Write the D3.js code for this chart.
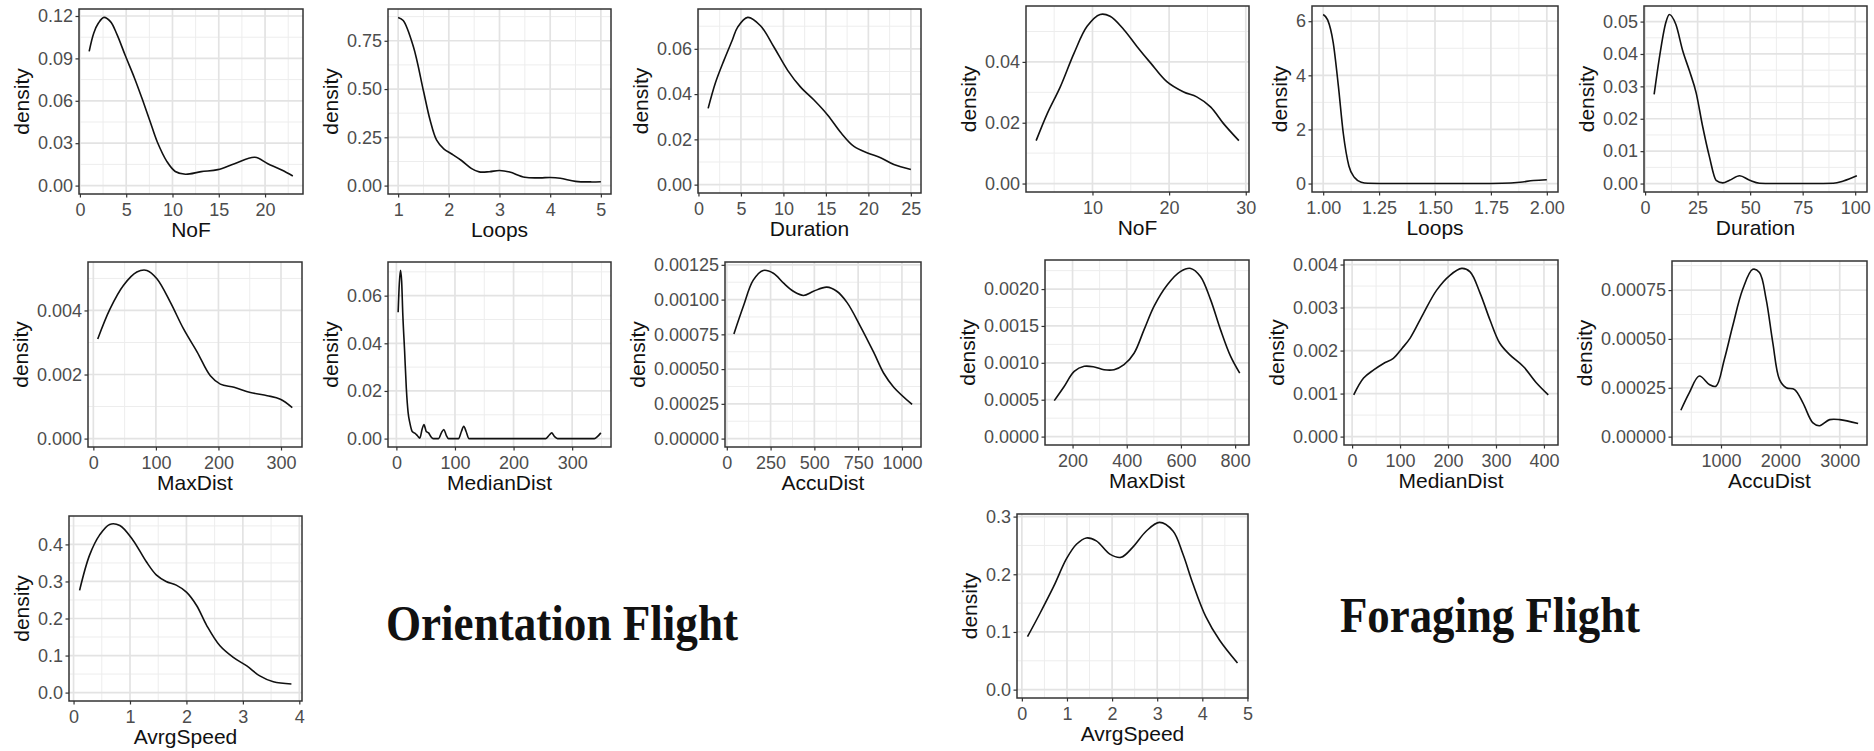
<!DOCTYPE html>
<html><head><meta charset="utf-8">
<script src="https://cdn.jsdelivr.net/npm/d3@7"></script>
<style>body{margin:0;background:#fff} svg{display:block}</style>
</head><body>
<svg id="c" width="1874" height="751"></svg>
<script>
// ---------- data: [value, density] ----------
const oriNoF = [[1,0.095],[1.5,0.108],[2,0.115],[2.6,0.119],[3.3,0.116],[4,0.107],[4.9,0.092],[5.9,0.076],[6.8,0.060],[7.6,0.045],[8.35,0.031],[9.4,0.017],[10.3,0.010],[11.4,0.008],[13.1,0.0099],[14.9,0.0113],[16.7,0.0155],[18.9,0.020],[20.3,0.0155],[21.8,0.011],[23,0.0068]];
const oriLoops = [[1,0.871],[1.1,0.855],[1.3,0.72],[1.5,0.49],[1.63,0.34],[1.76,0.235],[1.9,0.19],[2.05,0.165],[2.25,0.13],[2.45,0.088],[2.6,0.071],[2.8,0.072],[3.0,0.078],[3.2,0.07],[3.5,0.043],[3.8,0.04],[4.0,0.042],[4.2,0.038],[4.5,0.022],[4.8,0.019],[5,0.02]];
const oriDuration = [[1.14,0.0337],[2,0.045],[3,0.0549],[4,0.064],[4.6,0.0695],[5.8,0.0739],[7.3,0.0702],[8.9,0.0607],[10.5,0.0505],[12.0,0.0432],[13.6,0.0374],[15.2,0.0308],[16.8,0.0228],[18.3,0.0169],[19.9,0.014],[21.5,0.0118],[23.0,0.0089],[25.0,0.0067]];
const forNoF = [[2.65,0.0141],[4.1,0.023],[5.8,0.0318],[7.6,0.0429],[9.3,0.0517],[11.0,0.0556],[12.3,0.055],[14.1,0.0506],[15.8,0.0451],[17.6,0.0396],[19.7,0.0335],[21.9,0.0301],[23.6,0.0285],[25.4,0.0252],[27.1,0.0197],[29.1,0.0141]];
const forLoops = [[1,6.25],[1.02,6.05],[1.045,5.2],[1.068,3.6],[1.09,1.85],[1.115,0.65],[1.14,0.22],[1.17,0.05],[1.2,0.01],[1.3,0],[1.5,0],[1.7,0],[1.8,0.01],[1.88,0.05],[1.94,0.11],[2.0,0.14]];
const forDuration = [[4.3,0.0275],[6.7,0.0384],[9.9,0.0498],[11.5,0.0522],[14.7,0.049],[17.9,0.041],[21.1,0.0348],[24.3,0.028],[27.4,0.0176],[30.6,0.0083],[33.8,0.001],[37,0.0002],[40.2,0.001],[45,0.0024],[49.8,0.001],[54.5,0.0001],[60,0],[80,0],[89.6,0.0001],[94.4,0.0008],[100.8,0.0024]];
const oriMaxDist = [[7,0.00311],[26.7,0.00405],[48,0.00478],[69.5,0.0052],[85.6,0.00525],[101.6,0.00499],[123,0.00426],[144,0.00343],[166,0.0027],[187,0.00196],[203,0.0017],[225,0.0016],[251,0.00144],[278,0.00134],[299,0.00123],[318,0.00097]];
const oriMedianDist = [[3,0.053],[5,0.065],[7,0.0706],[9,0.066],[11,0.052],[14,0.037],[17,0.021],[20,0.011],[23,0.0066],[27,0.003],[32,0.0022],[36,0.0012],[40,0.0002],[44,0.004],[47,0.0059],[51,0.003],[55,0.0024],[59,0.0008],[63,0],[72,0],[77,0.0025],[81,0.0038],[85,0.0015],[89,0],[106,0],[111,0.003],[115,0.0052],[119,0.003],[124,0],[255,0],[261,0.0015],[265,0.0024],[270,0.0008],[275,0],[338,0],[343,0.0008],[349,0.0024]];
const oriAccuDist = [[40.6,0.000753],[94,0.00095],[151,0.00114],[208,0.00121],[266,0.00119],[323,0.00112],[380,0.00106],[438,0.00103],[495,0.00106],[571,0.00109],[628,0.00106],[686,0.00098],[762,0.00081],[839,0.00062],[896,0.00047],[953,0.00037],[1058,0.000246]];
const forMaxDist = [[132.5,0.000488],[169,0.00068],[206,0.000885],[243,0.000953],[280,0.000944],[316,0.000907],[353,0.000907],[390,0.000975],[427,0.00113],[464,0.00145],[501,0.00177],[550,0.00206],[599,0.00224],[636,0.00228],[672,0.00217],[709,0.00186],[746,0.00145],[783,0.00109],[817,0.00086]];
const forMedianDist = [[3.4,0.00097],[24,0.00136],[45,0.00155],[65.5,0.0017],[86,0.00182],[104,0.00205],[121,0.00229],[148.6,0.00286],[176,0.0034],[204,0.00375],[228.5,0.00391],[246,0.00383],[267,0.00333],[287.5,0.00271],[308,0.00217],[329,0.0019],[357,0.00163],[385,0.00124],[409,0.00097]];
const forAccuDist = [[324,0.000135],[465,0.000224],[634,0.00031],[803,0.000267],[915,0.000258],[1056,0.000395],[1197,0.000566],[1366,0.000754],[1535,0.000856],[1648,0.00084],[1761,0.000702],[1873,0.00048],[1986,0.000292],[2099,0.00025],[2240,0.000241],[2380,0.000173],[2549,0.00007],[2662,0.000056],[2831,0.000087],[3000,0.000087],[3310,0.000067]];
const oriAvrgSpeed = [[0.107,0.276],[0.284,0.371],[0.46,0.425],[0.64,0.454],[0.82,0.451],[1.05,0.412],[1.29,0.353],[1.47,0.317],[1.64,0.3],[1.82,0.29],[2.0,0.271],[2.18,0.235],[2.36,0.181],[2.59,0.127],[2.83,0.095],[3.07,0.072],[3.3,0.045],[3.54,0.029],[3.86,0.023]];
const forAvrgSpeed = [[0.125,0.0918],[0.40,0.132],[0.70,0.178],[0.99,0.227],[1.21,0.252],[1.43,0.263],[1.65,0.258],[1.95,0.235],[2.2,0.2295],[2.46,0.247],[2.76,0.275],[3.05,0.29],[3.35,0.275],[3.57,0.235],[3.79,0.184],[4.08,0.126],[4.38,0.086],[4.78,0.046]];

// ---------- tick values ----------
const ticksNoFO = [0,5,10,15,20],      yNoFO = [0,0.03,0.06,0.09,0.12];
const ticksLoopsO = [1,2,3,4,5],       yLoopsO = [0,0.25,0.5,0.75];
const ticksDurO = [0,5,10,15,20,25],   yDurO = [0,0.02,0.04,0.06];
const ticksNoFF = [10,20,30],          yNoFF = [0,0.02,0.04];
const ticksLoopsF = [1,1.25,1.5,1.75,2], yLoopsF = [0,2,4,6];
const ticksDurF = [0,25,50,75,100],    yDurF = [0,0.01,0.02,0.03,0.04,0.05];
const ticksMaxO = [0,100,200,300],     yMaxO = [0,0.002,0.004];
const ticksMedO = [0,100,200,300],     yMedO = [0,0.02,0.04,0.06];
const ticksAccO = [0,250,500,750,1000], yAccO = [0,0.00025,0.0005,0.00075,0.001,0.00125];
const ticksMaxF = [200,400,600,800],   yMaxF = [0,0.0005,0.001,0.0015,0.002];
const ticksMedF = [0,100,200,300,400], yMedF = [0,0.001,0.002,0.003,0.004];
const ticksAccF = [1000,2000,3000],    yAccF = [0,0.00025,0.0005,0.00075];
const ticksSpdO = [0,1,2,3,4],         ySpdO = [0,0.1,0.2,0.3,0.4];
const ticksSpdF = [0,1,2,3,4,5],       ySpdF = [0,0.1,0.2,0.3];

const titles = ["Orientation Flight", "Foraging Flight"];

// ---------- panel layout (left, top, right, bottom); mono = curve that never overshoots zero ----------
const panels = [
  {data: oriNoF, xlab: "NoF", xt: ticksNoFO, yt: yNoFO, xf: "d", yf: ".2f", box: [79, 9, 303, 194]},
  {data: oriLoops, xlab: "Loops", xt: ticksLoopsO, yt: yLoopsO, xf: "d", yf: ".2f", box: [388, 9, 611, 194]},
  {data: oriDuration, xlab: "Duration", xt: ticksDurO, yt: yDurO, xf: "d", yf: ".2f", box: [698, 9, 921, 193]},
  {data: forNoF, xlab: "NoF", xt: ticksNoFF, yt: yNoFF, xf: "d", yf: ".2f", box: [1026, 6, 1249, 192]},
  {data: forLoops, xlab: "Loops", xt: ticksLoopsF, yt: yLoopsF, xf: ".2f", yf: "d", box: [1312, 6, 1558, 192], mono: true},
  {data: forDuration, xlab: "Duration", xt: ticksDurF, yt: yDurF, xf: "d", yf: ".2f", box: [1644, 6, 1867, 192], mono: true},
  {data: oriMaxDist, xlab: "MaxDist", xt: ticksMaxO, yt: yMaxO, xf: "d", yf: ".3f", box: [88, 262, 302, 447]},
  {data: oriMedianDist, xlab: "MedianDist", xt: ticksMedO, yt: yMedO, xf: "d", yf: ".2f", box: [388, 262, 611, 447], mono: true},
  {data: oriAccuDist, xlab: "AccuDist", xt: ticksAccO, yt: yAccO, xf: "d", yf: ".5f", box: [725, 262, 921, 447]},
  {data: forMaxDist, xlab: "MaxDist", xt: ticksMaxF, yt: yMaxF, xf: "d", yf: ".4f", box: [1045, 260, 1249, 445]},
  {data: forMedianDist, xlab: "MedianDist", xt: ticksMedF, yt: yMedF, xf: "d", yf: ".3f", box: [1344, 260, 1558, 445]},
  {data: forAccuDist, xlab: "AccuDist", xt: ticksAccF, yt: yAccF, xf: "d", yf: ".5f", box: [1672, 261, 1867, 445]},
  {data: oriAvrgSpeed, xlab: "AvrgSpeed", xt: ticksSpdO, yt: ySpdO, xf: "d", yf: ".1f", box: [69, 516, 302, 701]},
  {data: forAvrgSpeed, xlab: "AvrgSpeed", xt: ticksSpdF, yt: ySpdF, xf: "d", yf: ".1f", box: [1017, 514, 1248, 698]}
];

const svg = d3.select("#c");
const FONT = "'Liberation Sans', Arial, sans-serif";

function minorBreaks(ticks, dom) {
  const s = ticks[1] - ticks[0], out = [];
  for (let v = ticks[0] - s / 2; v <= dom[1] + 1e-12; v += s) if (v >= dom[0]) out.push(v);
  return out;
}

panels.forEach(p => {
  const [x0, y0, x1, y1] = p.box;
  const xe = d3.extent(p.data, d => d[0]);
  const ex = (xe[1] - xe[0]) * 0.05;
  const ym = d3.max(p.data, d => d[1]), ey = ym * 0.05;
  const x = d3.scaleLinear().domain([xe[0] - ex, xe[1] + ex]).range([x0, x1]);
  const y = d3.scaleLinear().domain([-ey, ym + ey]).range([y1, y0]);
  const g = svg.append("g");

  g.append("rect").attr("x", x0).attr("y", y0).attr("width", x1 - x0).attr("height", y1 - y0).attr("fill", "#fff");

  const grid = g.append("g");
  minorBreaks(p.xt, x.domain()).forEach(v => grid.append("line")
    .attr("x1", x(v)).attr("x2", x(v)).attr("y1", y0).attr("y2", y1)
    .attr("stroke", "#EDEDED").attr("stroke-width", 1));
  minorBreaks(p.yt, y.domain()).forEach(v => grid.append("line")
    .attr("y1", y(v)).attr("y2", y(v)).attr("x1", x0).attr("x2", x1)
    .attr("stroke", "#EDEDED").attr("stroke-width", 1));
  p.xt.forEach(v => grid.append("line")
    .attr("x1", x(v)).attr("x2", x(v)).attr("y1", y0).attr("y2", y1)
    .attr("stroke", "#E3E3E3").attr("stroke-width", 1.7));
  p.yt.forEach(v => grid.append("line")
    .attr("y1", y(v)).attr("y2", y(v)).attr("x1", x0).attr("x2", x1)
    .attr("stroke", "#E3E3E3").attr("stroke-width", 1.7));

  const curve = p.mono ? d3.curveMonotoneX : d3.curveCatmullRom.alpha(0.5);
  const line = d3.line().x(d => x(d[0])).y(d => y(d[1])).curve(curve);
  g.append("path").datum(p.data).attr("d", line)
    .attr("fill", "none").attr("stroke", "#111").attr("stroke-width", 1.6)
    .attr("stroke-linejoin", "round");

  g.append("rect").attr("x", x0).attr("y", y0).attr("width", x1 - x0).attr("height", y1 - y0)
    .attr("fill", "none").attr("stroke", "#333").attr("stroke-width", 1.5);

  const xa = g.append("g").attr("transform", `translate(0,${y1})`)
    .call(d3.axisBottom(x).tickValues(p.xt).tickFormat(d3.format(p.xf)).tickSize(3.5).tickPadding(5.5));
  const ya = g.append("g").attr("transform", `translate(${x0},0)`)
    .call(d3.axisLeft(y).tickValues(p.yt).tickFormat(d3.format(p.yf)).tickSize(3.5).tickPadding(2.5));
  [xa, ya].forEach(a => {
    a.select(".domain").remove();
    a.selectAll(".tick line").attr("stroke", "#333").attr("stroke-width", 1.2);
    a.selectAll(".tick text").attr("fill", "#4D4D4D").style("font-family", FONT).style("font-size", "18px");
  });

  g.append("text").attr("x", (x0 + x1) / 2).attr("y", y1 + 42.5)
    .attr("text-anchor", "middle").attr("fill", "#111")
    .style("font-family", FONT).style("font-size", "21px").text(p.xlab);

  const bb = ya.node().getBBox();
  const lx = x0 + bb.x - 8.5;
  g.append("text").attr("transform", `translate(${lx},${(y0 + y1) / 2}) rotate(-90)`)
    .attr("text-anchor", "middle").attr("fill", "#111")
    .style("font-family", FONT).style("font-size", "21px").text("density");
});

const titlePos = [[386, 640], [1340, 632]];
const titleLen = [352, 300];
titles.forEach((t, i) => {
  svg.append("text").attr("x", titlePos[i][0]).attr("y", titlePos[i][1])
    .attr("fill", "#111").style("font-family", "'Liberation Serif', 'Times New Roman', serif")
    .style("font-weight", "bold").style("font-size", "50px")
    .attr("textLength", titleLen[i]).attr("lengthAdjust", "spacingAndGlyphs").text(t);
});
</script>
</body></html>
